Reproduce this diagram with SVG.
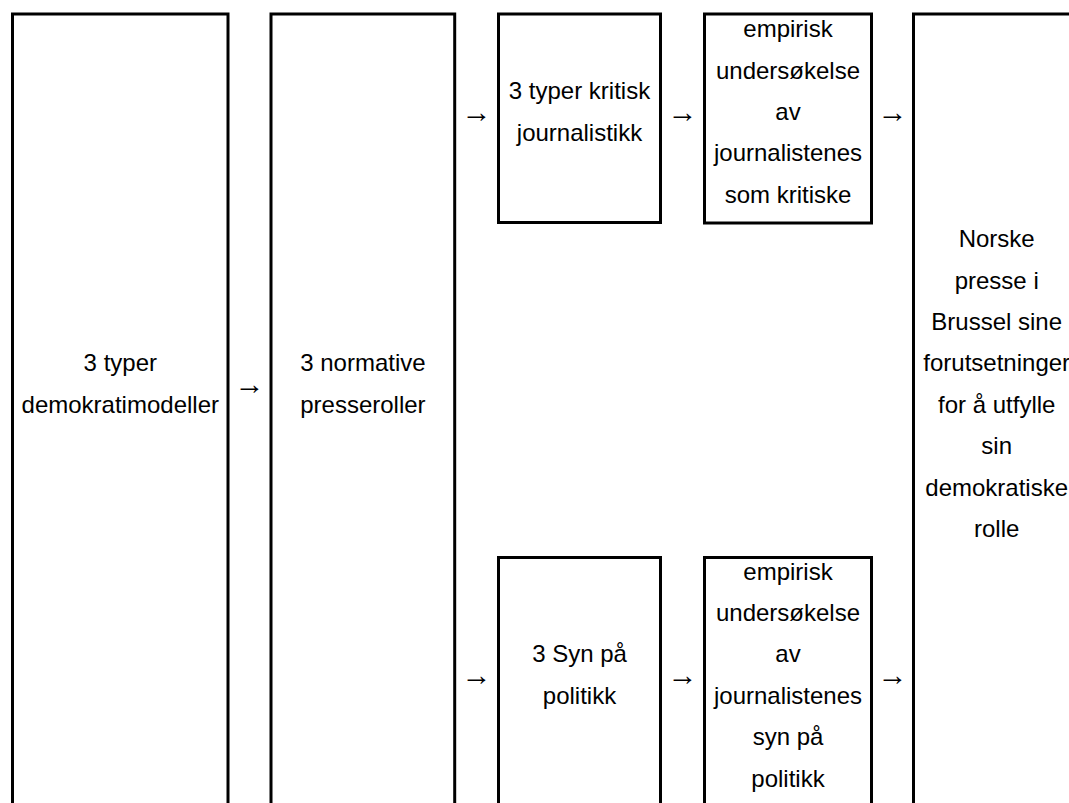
<svg xmlns="http://www.w3.org/2000/svg" width="1069" height="803" viewBox="0 0 1069 803">
<style>
.box{fill:#fff;stroke:#000;stroke-width:3}
text{font-family:"Liberation Sans",Arial,sans-serif;font-size:24px;fill:#000;text-anchor:middle}
#connectors text{font-size:30px}
</style>
<rect width="1069" height="803" fill="#fff"/>
<g id="node-demokratimodeller">
<rect class="box" x="12.5" y="14" width="215.5" height="820"/>
<text x="120.3" y="371.3">3 typer</text>
<text x="120.3" y="412.7">demokratimodeller</text>
</g>
<g id="node-presseroller">
<rect class="box" x="271" y="14" width="183.7" height="820"/>
<text x="362.9" y="371.3">3 normative</text>
<text x="362.9" y="412.7">presseroller</text>
</g>
<g id="node-kritisk">
<rect class="box" x="498.5" y="14" width="162" height="208.5"/>
<text x="579.5" y="99.3">3 typer kritisk</text>
<text x="579.5" y="140.7">journalistikk</text>
</g>
<g id="node-empirisk-kritiske">
<rect class="box" x="704.5" y="14" width="167" height="209"/>
<text x="788" y="37.2">empirisk</text>
<text x="788" y="78.6">undersøkelse</text>
<text x="788" y="120">av</text>
<text x="788" y="161.4">journalistenes</text>
<text x="788" y="202.8">som kritiske</text>
</g>
<g id="node-politikk">
<rect class="box" x="498.5" y="557.5" width="162" height="280"/>
<text x="579.5" y="662.3">3 Syn på</text>
<text x="579.5" y="703.7">politikk</text>
</g>
<g id="node-empirisk-politikk">
<rect class="box" x="704.5" y="557.5" width="167" height="280"/>
<text x="788" y="579.5">empirisk</text>
<text x="788" y="620.9">undersøkelse</text>
<text x="788" y="662.3">av</text>
<text x="788" y="703.7">journalistenes</text>
<text x="788" y="745.1">syn på</text>
<text x="788" y="786.5">politikk</text>
</g>
<g id="node-norske-presse">
<rect class="box" x="913.5" y="14" width="170" height="820"/>
<text x="996.7" y="247.1">Norske</text>
<text x="996.7" y="288.5">presse i</text>
<text x="996.7" y="329.9">Brussel sine</text>
<text x="996.7" y="371.3">forutsetninger</text>
<text x="996.7" y="412.7">for å utfylle</text>
<text x="996.7" y="454.1">sin</text>
<text x="996.7" y="495.5">demokratiske</text>
<text x="996.7" y="536.9">rolle</text>
</g>
<g id="connectors">
<text x="249.5" y="394">→</text>
<text x="476.6" y="122">→</text>
<text x="682.5" y="122">→</text>
<text x="892.5" y="122">→</text>
<text x="476.6" y="685">→</text>
<text x="682.5" y="685">→</text>
<text x="892.5" y="685">→</text>
</g>
</svg>
